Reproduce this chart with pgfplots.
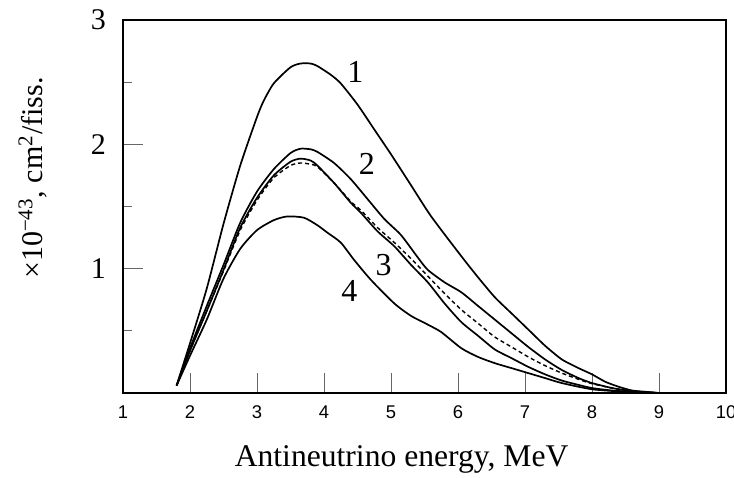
\documentclass[border=0pt]{standalone}
\usepackage{fontspec}
\setmainfont{Liberation Serif}
\newfontfamily\sansfont{Liberation Sans}
\usepackage{pgfplots}
\pgfplotsset{compat=1.18}
\usepackage{pgfplotstable}

% spectra, x in MeV, y in 1e-43 cm^2/fission
\pgfplotstableread{
x y
1.80 0.06
1.90 0.23
2.00 0.40
2.25 0.84
2.50 1.36
2.75 1.83
3.00 2.22
3.10 2.35
3.25 2.49
3.50 2.62
3.65 2.65
3.80 2.65
3.90 2.63
4.10 2.56
4.25 2.49
4.50 2.32
4.75 2.12
5.00 1.92
5.30 1.67
5.60 1.42
6.05 1.10
6.30 0.93
6.55 0.77
6.80 0.64
7.05 0.51
7.30 0.38
7.55 0.27
7.80 0.20
8.00 0.15
8.20 0.09
8.40 0.05
8.60 0.02
8.80 0.01
9.00 0.00
}\curveone

\pgfplotstableread{
x y
1.80 0.06
2.00 0.36
2.25 0.70
2.50 1.03
2.75 1.37
3.00 1.62
3.25 1.80
3.50 1.93
3.65 1.965
3.80 1.96
3.90 1.94
4.15 1.85
4.40 1.72
4.65 1.56
4.90 1.40
5.15 1.27
5.40 1.09
5.55 0.99
5.80 0.89
6.05 0.81
6.30 0.70
6.55 0.59
6.80 0.48
7.05 0.37
7.30 0.27
7.55 0.185
7.80 0.12
8.00 0.08
8.30 0.04
8.60 0.015
9.00 0.00
}\curvetwo

\pgfplotstableread{
x y
1.80 0.06
2.00 0.34
2.25 0.66
2.50 0.99
2.75 1.33
3.00 1.57
3.25 1.75
3.50 1.86
3.65 1.885
3.80 1.87
3.90 1.83
4.15 1.69
4.40 1.53
4.55 1.45
4.80 1.30
5.05 1.18
5.30 1.03
5.55 0.89
5.80 0.72
6.05 0.57
6.30 0.46
6.55 0.35
6.80 0.28
7.05 0.21
7.30 0.15
7.55 0.10
7.80 0.065
8.00 0.04
8.30 0.02
8.60 0.01
9.00 0.00
}\curvethree

\pgfplotstableread{
x y
1.80 0.06
2.00 0.34
2.25 0.66
2.50 0.98
2.75 1.31
3.00 1.55
3.25 1.73
3.50 1.83
3.65 1.85
3.80 1.84
3.90 1.82
4.15 1.69
4.40 1.54
4.55 1.47
4.80 1.33
5.05 1.21
5.30 1.08
5.55 0.94
5.80 0.80
6.05 0.67
6.30 0.56
6.55 0.45
6.80 0.37
7.05 0.29
7.30 0.22
7.55 0.16
7.80 0.11
8.00 0.075
8.30 0.04
8.60 0.015
9.00 0.00
}\curvedash

\pgfplotstableread{
x y
1.80 0.06
2.00 0.30
2.25 0.59
2.50 0.92
2.75 1.16
3.00 1.31
3.25 1.39
3.45 1.42
3.70 1.41
3.90 1.35
4.05 1.29
4.25 1.21
4.45 1.07
4.70 0.91
5.05 0.72
5.30 0.62
5.55 0.55
5.75 0.49
6.05 0.36
6.30 0.29
6.55 0.24
6.80 0.20
7.05 0.16
7.30 0.12
7.55 0.08
8.00 0.03
8.50 0.01
9.00 0.00
}\curvefour

\begin{document}
\begin{tikzpicture}
\begin{axis}[
    scale only axis,
    width=301.5pt, height=186.5pt,
    xmin=1, xmax=10, ymin=0, ymax=3,
    xtick={1,2,...,10},
    ytick={1,2,3},
    minor ytick={0.5,1.5,2.5},
    tick align=inside,
    xtick pos=bottom, ytick pos=left,
    major tick length=10pt, minor tick length=4.5pt,
    tick style={black!60, line width=0.5pt},
    axis line style={line width=1pt},
    /pgf/number format/assume math mode=true,
    xticklabel style={font=\sansfont\fontsize{9.2}{11}\selectfont, yshift=-3pt},
    yticklabel style={font=\fontsize{15}{18}\selectfont, xshift=-5pt},
    xlabel={Antineutrino energy, MeV},
    xlabel style={font=\fontsize{15.8}{18}\selectfont, at={(axis description cs:0.462,-0.196)}, anchor=base},
    ylabel={×10\textsuperscript{−43}, cm\textsuperscript{2}/fiss.},
    ylabel style={font=\fontsize{15}{18}\selectfont, at={(axis description cs:-0.133,0.576)}, anchor=base},
    clip=false,
]
\addplot[black, no markers, line width=0.85pt, smooth, tension=0.4] table {\curveone};
\addplot[black, no markers, line width=0.85pt, smooth, tension=0.4] table {\curvetwo};
\addplot[black, no markers, line width=0.85pt, smooth, tension=0.4] table {\curvethree};
\addplot[black, no markers, line width=0.7pt, smooth, tension=0.4, dash pattern=on 2pt off 1.5pt] table {\curvedash};
\addplot[black, no markers, line width=0.85pt, smooth, tension=0.4] table {\curvefour};

\node[font=\fontsize{16}{18}\selectfont] at (axis cs:4.47,2.585) {1};
\node[font=\fontsize{16}{18}\selectfont] at (axis cs:4.64,1.84) {2};
\node[font=\fontsize{16}{18}\selectfont] at (axis cs:4.89,1.03) {3};
\node[font=\fontsize{16}{18}\selectfont] at (axis cs:4.38,0.82) {4};
\end{axis}
% page frame in the reference's proportions (the "10" label runs off the edge, as there)
\path (current axis.south west) ++(-61.5pt,-42pt) coordinate (bbsw);
\path (current axis.north east) ++(4pt,10pt) coordinate (bbne);
\pgfresetboundingbox
\useasboundingbox (bbsw) rectangle (bbne);
\end{tikzpicture}
\end{document}
